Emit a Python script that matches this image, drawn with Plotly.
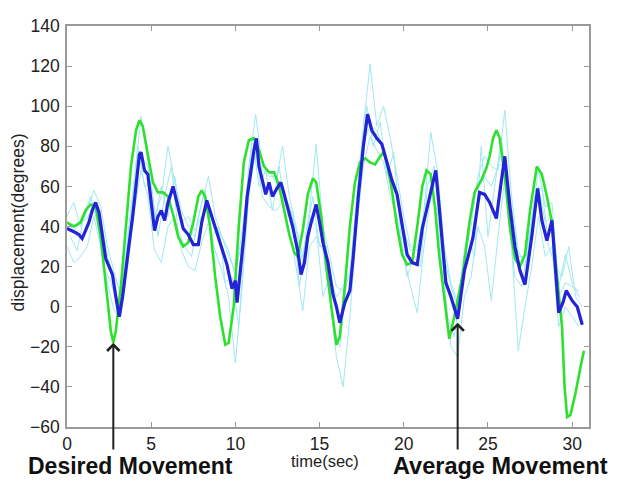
import plotly.graph_objects as go

# ---------------- data ----------------
# Desired movement (green)
green_t = [0.0, 0.4, 0.8, 1.1, 1.4, 1.7, 2.0, 2.3, 2.6, 2.75, 2.9, 3.2, 3.5, 3.8, 4.1, 4.3, 4.5, 4.8,
           5.1, 5.4, 5.7, 6.0, 6.3, 6.6, 6.9, 7.2, 7.5, 7.8, 8.0, 8.2, 8.5, 8.8, 9.1, 9.4, 9.6, 9.9,
           10.2, 10.5, 10.8, 11.1, 11.4, 11.7, 12.0, 12.3, 12.6, 12.9, 13.2, 13.5, 13.7, 14.0, 14.3,
           14.6, 14.8, 15.1, 15.4, 15.7, 16.0, 16.2, 16.5, 16.8, 17.1, 17.4, 17.7, 18.0, 18.3, 18.6,
           18.8, 19.0, 19.3, 19.6, 19.9, 20.2, 20.5, 20.8, 21.1, 21.35, 21.6, 21.85, 22.1, 22.4, 22.7,
           23.0, 23.5, 23.9, 24.2, 24.6, 24.9, 25.1, 25.3, 25.5, 25.7, 26.0, 26.3, 26.6, 26.9, 27.2,
           27.5, 27.9, 28.2, 28.5, 28.8, 29.1, 29.4, 29.55, 29.7, 29.9, 30.2, 30.5, 30.7]
green_y = [42, 40, 42, 48, 51, 50, 35, 10, -12, -18, -12, 10, 40, 70, 88, 93, 90, 75,
           62, 57, 57, 55, 46, 35, 30, 32, 42, 55, 58, 55, 40, 15, -5, -19, -18, 0,
           40, 72, 83, 84, 78, 70, 67, 67, 60, 48, 36, 27, 25, 38, 56,
           64, 62, 45, 20, 0, -19, -15, 10, 40, 62, 72, 74, 72, 71, 75,
           77, 72, 58, 40, 26, 21, 22, 40, 60, 68, 66, 50, 26, 5, -16,
           -5, 16, 42, 57, 63, 69, 75, 84, 88, 84, 65, 40, 24, 20, 26,
           48, 70, 66, 55, 42, 15, -10, -40, -55, -54, -43, -30, -22]

# Average movement (blue)
blue_t = [0.0, 0.3, 0.5, 0.7, 0.9, 1.1, 1.3, 1.5, 1.7, 1.9, 2.1, 2.3, 2.5, 2.7, 2.9, 3.1, 3.3, 3.5,
          3.7, 3.9, 4.1, 4.3, 4.4, 4.6, 4.8, 5.0, 5.2, 5.4, 5.6, 5.8, 6.0, 6.3, 6.6, 6.9, 7.2, 7.5,
          7.8, 8.0, 8.3, 8.6, 8.9, 9.2, 9.5, 9.8, 10.0, 10.1, 10.3, 10.5, 10.7, 10.9, 11.1, 11.25,
          11.4, 11.6, 11.8, 12.0, 12.2, 12.4, 12.7, 12.9, 13.1, 13.4, 13.7, 13.9, 14.1, 14.3, 14.5,
          14.8, 15.0, 15.2, 15.5, 15.8, 16.0, 16.2, 16.5, 16.8, 17.0, 17.3, 17.6, 17.85, 18.1, 18.4,
          18.7, 19.0, 19.3, 19.6, 19.9, 20.2, 20.5, 20.8, 21.1, 21.5, 21.9, 22.1, 22.3, 22.5, 22.8,
          23.2, 23.6, 24.1, 24.5, 24.8, 25.1, 25.5, 25.75, 26.0, 26.3, 26.6, 26.9, 27.2, 27.6,
          27.95, 28.2, 28.5, 28.8, 29.2, 29.45, 29.65, 30.0, 30.3, 30.6]
blue_y = [39, 38, 37, 36, 34, 38, 42, 48, 52, 47, 35, 24, 20, 16, 5, -5, 5, 20,
          32, 45, 62, 76, 77, 68, 66, 52, 38, 45, 48, 43, 52, 60, 50, 39, 36, 31,
          31, 42, 53, 45, 37, 30, 21, 9, 13, 2, 18, 35, 55, 68, 78, 84,
          70, 63, 56, 62, 55, 58, 62, 56, 50, 40, 28, 16, 22, 35, 42,
          51, 42, 32, 22, 6, 0, -8, 2, 8, 25, 55, 80, 96, 88, 84,
          81, 72, 63, 56, 40, 26, 22, 21, 39, 54, 68, 50, 30, 12, 5,
          -6, 18, 34, 57, 56, 52, 44, 60, 75, 50, 30, 18, 11, 35,
          59, 43, 33, 43, -3, 2, 8, 3, 0, -9]

# Individual trials (light cyan)
trial_t = [0.0, 0.4, 0.8, 1.2, 1.6, 2.0, 2.4, 2.8, 3.2, 3.6, 4.0, 4.4, 4.8, 5.2, 5.6, 6.0, 6.4, 6.8,
           7.2, 7.6, 8.0, 8.4, 8.8, 9.2, 9.6, 10.0, 10.4, 10.8, 11.2, 11.6, 12.0, 12.4, 12.8, 13.2,
           13.6, 14.0, 14.4, 14.8, 15.2, 15.6, 16.0, 16.4, 16.8, 17.2, 17.6, 18.0, 18.4, 18.8, 19.2,
           19.6, 20.0, 20.4, 20.8, 21.2, 21.6, 22.0, 22.4, 22.8, 23.2, 23.6, 24.0, 24.4, 24.8, 25.2,
           25.6, 26.0, 26.4, 26.8, 27.2, 27.6, 28.0, 28.4, 28.8, 29.2, 29.6, 30.0, 30.4]
trial_1 = [45, 52, 40, 48, 58, 50, 30, 18, 5, 35, 62, 95, 72, 45, 55, 80, 62, 48,
           40, 35, 52, 65, 45, 35, 25, 18, 32, 70, 96, 70, 68, 62, 80, 55,
           40, 25, 48, 81, 40, 25, 10, 8, 15, 55, 90, 121, 90, 100, 84,
           65, 45, 30, 28, 48, 87, 68, 30, 12, 2, 25, 40, 65, 75, 70,
           68, 98, 55, 28, 20, 45, 68, 50, 52, 10, 26, 12, 5]
trial_2 = [30, 22, 25, 30, 45, 30, 12, -2, -5, 20, 48, 68, 55, 28, 22, 40, 45, 28,
           20, 18, 32, 42, 28, 18, 5, -28, 10, 55, 78, 55, 50, 48, 52, 38,
           20, -2, 30, 35, 28, 5, -25, -40, -5, 40, 70, 85, 78, 72, 55,
           45, 25, 10, -3, 30, 55, 48, 5, -20, -25, 5, 15, 40, 30, 3,
           35, 65, 30, -22, 0, 20, 45, 25, 30, -10, 0, -5, -10]
trial_3 = [42, 38, 42, 44, 52, 45, 25, 15, 8, 28, 58, 75, 70, 42, 60, 45, 65, 42,
           45, 38, 45, 50, 40, 35, 28, 15, 38, 65, 80, 68, 65, 65, 58, 50,
           38, 22, 45, 40, 5, 15, 5, 10, 18, 50, 82, 90, 88, 78, 62,
           58, 38, 28, 30, 45, 58, 62, 25, 10, 0, 28, 45, 62, 65, 60,
           70, 72, 50, 25, 25, 42, 60, 42, 45, 5, 12, 10, 8]
trial_t4 = [0.2, 0.6, 1.0, 1.4, 1.8, 2.2, 2.6, 3.0, 3.4, 3.8, 4.2, 4.6, 5.0, 5.4, 5.8, 6.2, 6.6, 7.0,
            7.4, 7.8, 8.2, 8.6, 9.0, 9.4, 9.8, 10.2, 10.6, 11.0, 11.4, 11.8, 12.2, 12.6, 13.0, 13.4,
            13.8, 14.2, 14.6, 15.0, 15.4, 15.8, 16.2, 16.6, 17.0, 17.4, 17.8, 18.2, 18.6, 19.0, 19.4,
            19.8, 20.2, 20.6, 21.0, 21.4, 21.8, 22.2, 22.6, 23.0, 23.4, 23.8, 24.2, 24.6, 25.0, 25.4,
            25.8, 26.2, 26.6, 27.0, 27.4, 27.8, 28.2, 28.6, 29.0, 29.4, 29.8, 30.2, 30.6]
trial_4 = [35, 28, 45, 55, 42, 20, 12, 2, 18, 48, 80, 60, 62, 35, 55, 70, 38, 30,
           25, 45, 58, 35, 40, 12, 15, -10, 40, 85, 60, 68, 48, 70, 45, 48,
           10, 35, 55, 30, 30, -10, -20, 12, 20, 70, 100, 80, 92, 65, 77,
           38, 15, 25, 20, 60, 70, 35, -5, -15, 10, 35, 25, 80, 35, 60,
           85, 45, 15, 10, 30, 55, 60, 30, 20, 15, 30, 5, 0]

x_ticks = [0, 5, 10, 15, 20, 25, 30]
y_ticks = [-60, -40, -20, 0, 20, 40, 60, 80, 100, 120, 140]

# ---------------- figure ----------------
fig = go.Figure()
for tt, tr in ((trial_t, trial_1), (trial_t4, trial_4), (trial_t, trial_2), (trial_t, trial_3)):
    fig.add_trace(go.Scatter(x=tt, y=tr, mode="lines",
                             line=dict(color="rgb(160,232,242)", width=1),
                             showlegend=False, hoverinfo="skip"))
fig.add_trace(go.Scatter(x=green_t, y=green_y, mode="lines",
                         line=dict(color="#2ee02e", width=2.6), showlegend=False))
fig.add_trace(go.Scatter(x=blue_t, y=blue_y, mode="lines",
                         line=dict(color="rgb(35,35,215)", width=3.2), showlegend=False))

axis_common = dict(showgrid=False, zeroline=False, showline=True, linecolor="#9a9a9a",
                   linewidth=1.5, mirror="ticks", ticks="inside", ticklen=5,
                   tickcolor="#9a9a9a", tickwidth=1,
                   tickfont=dict(family="Liberation Sans, Arial, sans-serif", size=17.5, color="#222"))
fig.update_xaxes(range=[0, 31], tickvals=x_ticks, **axis_common)
fig.update_yaxes(range=[-60, 140], tickvals=y_ticks, ticklabelstandoff=2, **axis_common)

font_lbl = "Liberation Sans, Arial, sans-serif"
annotations = [
    dict(text="displacement(degrees)", xref="paper", yref="paper", x=-0.093, y=0.511,
         textangle=-90, showarrow=False, font=dict(family=font_lbl, size=17.5, color="#222"),
         xanchor="center", yanchor="middle"),
    dict(text="time(sec)", xref="paper", yref="paper", x=0.495, y=-0.085,
         showarrow=False, font=dict(family=font_lbl, size=16.5, color="#222"),
         xanchor="center", yanchor="middle"),
    dict(text="<b>Desired Movement</b>", xref="paper", yref="paper", x=0.1226, y=-0.097,
         showarrow=False, font=dict(family=font_lbl, size=23, color="#111"),
         xanchor="center", yanchor="middle"),
    dict(text="<b>Average Movement</b>", xref="paper", yref="paper", x=0.831, y=-0.097,
         showarrow=False, font=dict(family=font_lbl, size=23.5, color="#111"),
         xanchor="center", yanchor="middle"),
    dict(x=2.75, y=-18, xref="x", yref="y", ax=2.75, ay=-72, axref="x", ayref="y",
         text="", showarrow=True, arrowhead=4, arrowsize=1.2, arrowwidth=2, arrowcolor="#222"),
    dict(x=23.2, y=-8, xref="x", yref="y", ax=23.2, ay=-72, axref="x", ayref="y",
         text="", showarrow=True, arrowhead=4, arrowsize=1.2, arrowwidth=2, arrowcolor="#222"),
]

# The page body has an 8 px margin, so the figure is 8 px smaller than the window
# and its margins are shifted so that the plot area lands where the reference has it.
fig.update_layout(width=609, height=473, margin=dict(l=59, r=28, t=8, b=54),
                  paper_bgcolor="white", plot_bgcolor="white", annotations=annotations)

fig.write_html("out.html")
